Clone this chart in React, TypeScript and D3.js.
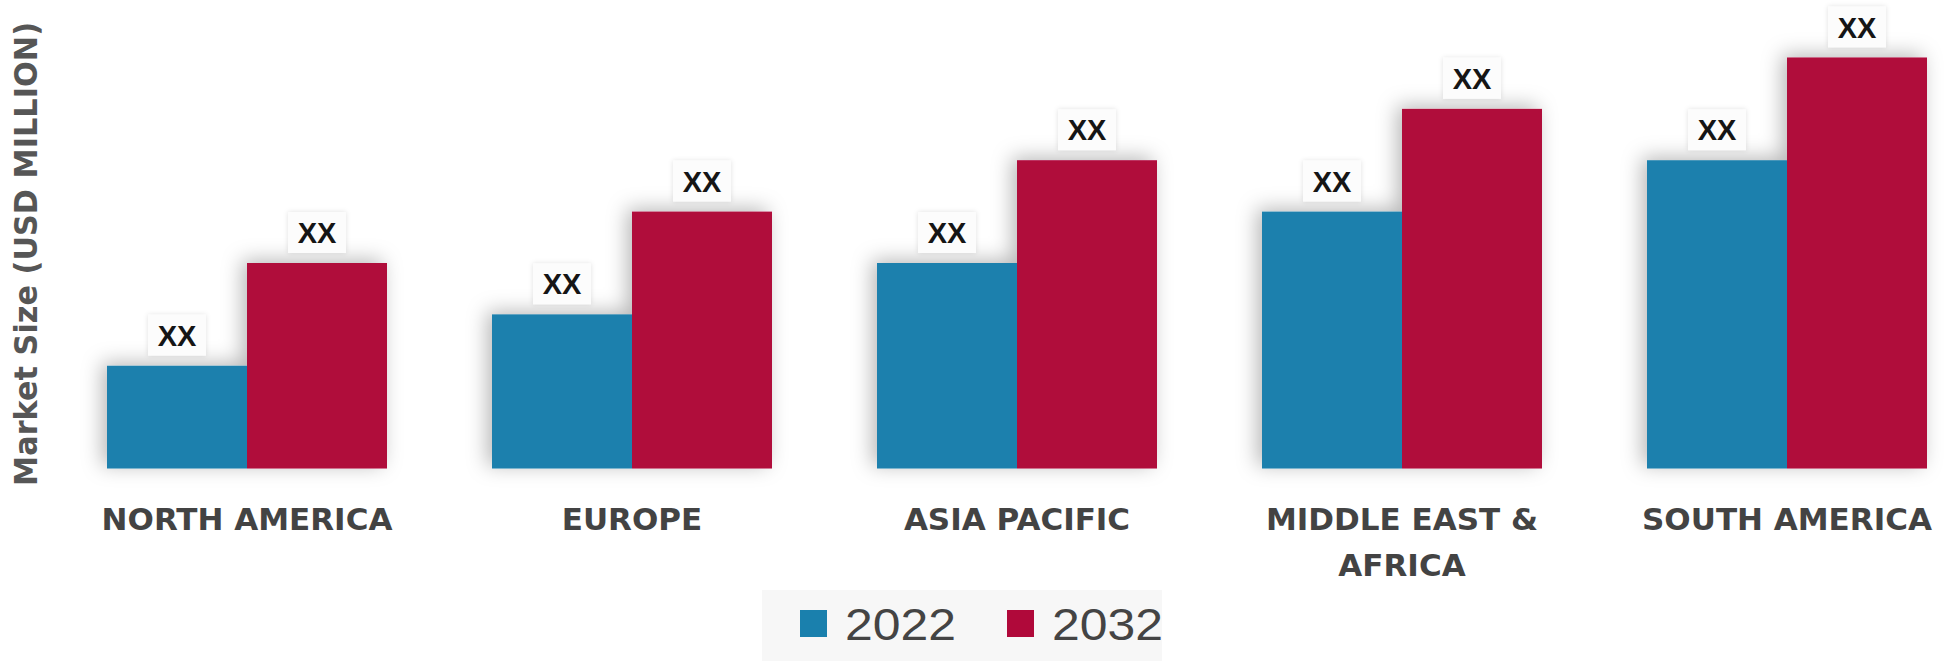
import React from "react";
import { scaleBand, scaleLinear } from "d3";

const categories = ["NORTH AMERICA", "EUROPE", "ASIA PACIFIC", "MIDDLE EAST &\nAFRICA", "SOUTH AMERICA"];
const years = ["2022", "2032"];
const values2022 = [2, 3, 4, 5, 6];
const values2032 = [4, 5, 6, 7, 8];
const valueLabels = ["XX", "XX"];
const colors = ["#1a80ad", "#b0093a"];

const width = 1959;
const height = 661;

const App = () => {
  const x = scaleBand<string>()
    .domain(categories)
    .range([107, 1927])
    .paddingInner(105 / 385)
    .paddingOuter(0);
  const x1 = scaleBand<string>().domain(years).range([0, x.bandwidth()]);
  const y = scaleLinear().domain([0, 8]).range([468.5, 57.5]);

  const series = [values2022, values2032];

  return (
    <div style={{ position: "absolute", left: 0, top: 0 }}>
      <svg width={width} height={height} style={{ display: "block", background: "#fff" }}>
        <defs>
          <filter id="barShadow" x="-30%" y="-30%" width="160%" height="160%">
            <feDropShadow dx="-5" dy="-3" stdDeviation="10" floodColor="#000" floodOpacity="0.28" />
          </filter>
          <filter id="boxShadow" x="-40%" y="-40%" width="180%" height="180%">
            <feDropShadow dx="0" dy="0" stdDeviation="2.5" floodColor="#000" floodOpacity="0.12" />
          </filter>
        </defs>

        {/* y axis title */}
        <text
          transform={`translate(37,254) rotate(-90) scale(1,1.12)`}
          textAnchor="middle"
          fontFamily="'DejaVu Sans', sans-serif"
          fontWeight="bold"
          fontSize={29}
          fill="#565656"
          textLength={464}
          lengthAdjust="spacingAndGlyphs"
        >
          Market Size (USD MILLION)
        </text>

        {categories.map((c, i) => (
          <g key={c}>
            <g filter="url(#barShadow)">
              {years.map((yr, j) => (
                <rect
                  key={yr}
                  x={(x(c) ?? 0) + (x1(yr) ?? 0)}
                  y={y(series[j][i])}
                  width={x1.bandwidth()}
                  height={y(0) - y(series[j][i])}
                  fill={colors[j]}
                />
              ))}
            </g>
            {years.map((yr, j) => {
              const cx = (x(c) ?? 0) + (x1(yr) ?? 0) + x1.bandwidth() / 2;
              const top = y(series[j][i]);
              return (
                <g key={yr}>
                  <rect
                    x={cx - 29}
                    y={top - 51}
                    width={58}
                    height={41}
                    fill="#fcfcfc"
                    filter="url(#boxShadow)"
                  />
                  <text
                    x={cx}
                    y={top - 20}
                    textAnchor="middle"
                    fontFamily="'Liberation Sans', Arial, sans-serif"
                    fontWeight="bold"
                    fontSize={29}
                    fill="#151515"
                  >
                    {valueLabels[j]}
                  </text>
                </g>
              );
            })}
            {c.split("\n").map((line, k) => (
              <text
                key={k}
                x={(x(c) ?? 0) + x.bandwidth() / 2}
                y={530 + k * 46}
                textAnchor="middle"
                fontFamily="'DejaVu Sans', sans-serif"
                fontWeight="bold"
                fontSize={31}
                fill="#434343"
              >
                {line}
              </text>
            ))}
          </g>
        ))}

        {/* legend */}
        <rect x={762} y={590} width={400} height={71} fill="#f7f7f7" />
        {years.map((yr, j) => {
          const lx = [800, 1007][j];
          return (
            <g key={yr}>
              <rect x={lx} y={610} width={27} height={27} fill={colors[j]} />
              <text
                x={lx + 45}
                y={640}
                fontFamily="'Liberation Sans', Arial, sans-serif"
                fontSize={44}
                fill="#444"
                textLength={111}
                lengthAdjust="spacingAndGlyphs"
              >
                {yr}
              </text>
            </g>
          );
        })}
      </svg>
    </div>
  );
};

export default App;
